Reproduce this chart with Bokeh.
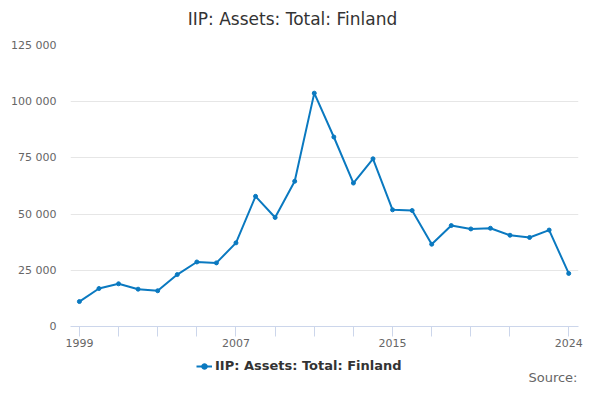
from bokeh.embed import file_html
from bokeh.resources import INLINE
from bokeh.layouts import column
from bokeh.models import (ColumnDataSource, FixedTicker, Label, Legend,
                          LegendItem, Range1d)
from bokeh.plotting import figure

# ─── data ───────────────────────────────────────────────────────────────────
years = list(range(1999, 2025))
assets = [11100, 16900, 19000, 16600, 15900, 23100, 28700, 28300, 37200,
          57900, 48500, 64600, 103800, 84300, 63800, 74600, 51900, 51600,
          36600, 44900, 43400, 43700, 40600, 39600, 42900, 23600]

x_ticks = [1999, 2001, 2003, 2005, 2007, 2009, 2011, 2013, 2015, 2017, 2019,
           2021, 2024]
x_tick_labels = {1999: "1999", 2007: "2007", 2015: "2015", 2024: "2024"}
y_ticks = [0, 25000, 50000, 75000, 100000, 125000]
y_tick_labels = ["0", "25 000", "50 000", "75 000", "100 000", "125 000"]

TITLE = "IIP: Assets: Total: Finland"
SERIES = "IIP: Assets: Total: Finland"
FONT = "DejaVu Sans"
BLUE = "#0a79c0"

src = ColumnDataSource(dict(year=years, value=assets))


def strip(height, y_end):
    # text-only strip; the column aligns its frame with the chart (page x 70..578)
    f = figure(width=584, height=height, output_backend="svg",
               toolbar_location=None, x_range=Range1d(70, 578),
               y_range=Range1d(0, y_end), min_border=0,
               x_axis_location=None, y_axis_location=None)
    f.outline_line_color = None
    f.grid.grid_line_color = None
    return f


# ─── header: title ──────────────────────────────────────────────────────────
head = strip(36, 36)
head.add_layout(Label(x=292, y=18, text=TITLE, text_font=FONT,
                      text_font_size="17px", text_color="#333333",
                      text_align="center", text_baseline="middle"))

# ─── main chart ─────────────────────────────────────────────────────────────
p = figure(width=584, height=320, output_backend="svg", toolbar_location=None,
           x_range=Range1d(1998.545, 2024.5), y_range=Range1d(0, 125000),
           min_border_left=70, min_border_right=6, min_border_top=9,
           min_border_bottom=30)
p.outline_line_color = None

p.xaxis.ticker = FixedTicker(ticks=x_ticks)
p.xaxis.major_label_overrides = {t: x_tick_labels.get(t, "") for t in x_ticks}
p.xaxis.axis_line_color = "#ccd6eb"
p.xaxis.major_tick_line_color = "#ccd6eb"
p.xaxis.major_tick_out = 10
p.xaxis.major_tick_in = 0
p.xaxis.minor_tick_line_color = None
p.xaxis.major_label_standoff = 2
p.xaxis.major_label_text_font = FONT
p.xaxis.major_label_text_font_size = "11px"
p.xaxis.major_label_text_color = "#666666"

p.yaxis.ticker = FixedTicker(ticks=y_ticks)
p.yaxis.major_label_overrides = dict(zip(y_ticks, y_tick_labels))
p.yaxis.axis_line_color = None
p.yaxis.major_tick_line_color = None
p.yaxis.minor_tick_line_color = None
p.yaxis.major_label_standoff = 8
p.yaxis.major_label_text_font = FONT
p.yaxis.major_label_text_font_size = "11px"
p.yaxis.major_label_text_color = "#666666"

p.xgrid.grid_line_color = None
p.ygrid.ticker = FixedTicker(ticks=y_ticks)
p.ygrid.grid_line_color = "#e6e6e6"

p.line("year", "value", source=src, line_color=BLUE, line_width=2)
p.scatter("year", "value", source=src, size=4, color=BLUE)

# ─── footer: legend + source (same series, kept outside its visible range) ──
foot = strip(28, 28)
f_ln = foot.line("year", "value", source=src, line_color=BLUE, line_width=2)
f_pts = foot.scatter("year", "value", source=src, size=4, color=BLUE)

legend = Legend(items=[LegendItem(label=SERIES, renderers=[f_ln, f_pts])],
                location=(126, 11), orientation="horizontal",
                label_text_font=FONT, label_text_font_size="13px",
                label_text_font_style="bold", label_text_color="#333333",
                glyph_width=16, glyph_height=14, label_height=14,
                label_standoff=3, border_line_color=None,
                background_fill_alpha=0, padding=0, margin=0)
foot.add_layout(legend, "center")

foot.add_layout(Label(x=577, y=7, text="Source:", text_font=FONT,
                      text_font_size="13px", text_color="#666666",
                      text_align="right", text_baseline="middle"))

open("out.html", "w").write(file_html(column(head, p, foot, spacing=0), INLINE))
